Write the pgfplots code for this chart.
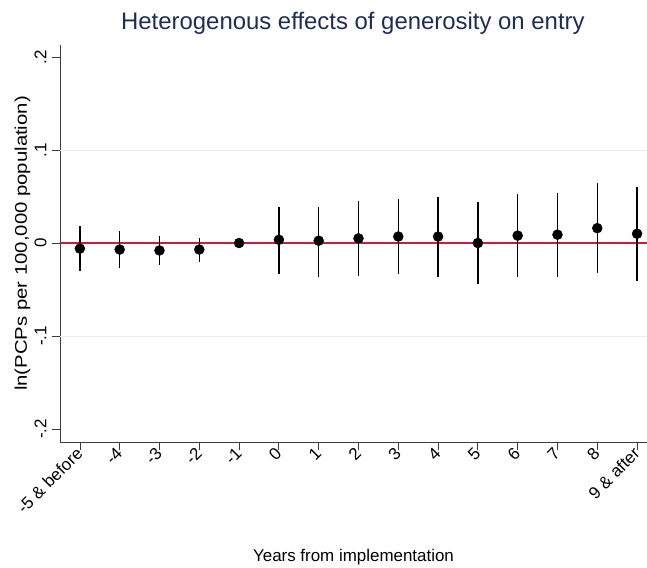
\documentclass[border=0pt]{standalone}
\usepackage{fontspec}
\setmainfont{Liberation Sans}
\usepackage{pgfplots}
\pgfplotsset{compat=1.18}
\usepackage{pgfplotstable}
\definecolor{titlenavy}{RGB}{30,45,88}
\definecolor{zerored}{RGB}{200,30,62}
\definecolor{gridc}{RGB}{230,238,243}
\definecolor{axisgray}{RGB}{60,60,60}

\pgfplotstableread{
x y lo hi
-5 -0.006 -0.030 0.018
-4 -0.007 -0.027 0.013
-3 -0.008 -0.024 0.008
-2 -0.007 -0.020 0.005
-1 0.000 0.000 0.000
0 0.0035 -0.033 0.039
1 0.0025 -0.036 0.039
2 0.005 -0.035 0.045
3 0.007 -0.033 0.047
4 0.007 -0.036 0.050
5 0.000 -0.044 0.044
6 0.008 -0.037 0.053
7 0.009 -0.036 0.054
8 0.016 -0.032 0.065
9 0.010 -0.041 0.060
}\coefs

\begin{document}
\begin{tikzpicture}
\path[use as bounding box] (0,0) rectangle (647bp,568bp);
\begin{axis}[
  at={(60bp,126bp)}, anchor=south west,
  scale only axis, width=587bp, height=397bp,
  xmin=-5.5, xmax=9.25, ymin=-0.214, ymax=0.213,
  axis x line*=bottom, axis y line*=left,
  axis line style={axisgray, line width=1pt, -},
  tick align=outside, major tick length=8bp,
  tick style={axisgray, line width=0.8pt},
  xtick={-5,-4,-3,-2,-1,0,1,2,3,4,5,6,7,8,9},
  xticklabels={{-5 \& before},{-4},{-3},{-2},{-1},{0},{1},{2},{3},{4},{5},{6},{7},{8},{9 \& after}},
  xticklabel style={yshift=2bp, xshift=2bp, rotate=45, anchor=east, font=\fontsize{17}{17}\selectfont},
  ytick={-0.2,-0.1,0,0.1,0.2},
  yticklabels={{-.2},{-.1},{0},{.1},{.2}},
  yticklabel style={xshift=-2bp, rotate=90, anchor=south, font=\fontsize{17}{17}\selectfont},
  title={Heterogenous effects of generosity on entry},
  title style={at={(axis description cs:0.499,1.040)}, anchor=center, font=\fontsize{24}{24}\selectfont, text=titlenavy},
  xlabel={Years from implementation},
  xlabel style={at={(axis description cs:0.5,-0.29)}, anchor=center, font=\fontsize{17}{17}\selectfont},
  ylabel={\scalebox{1.2}[1]{ln(PCPs per 100,000 population)}},
  ylabel style={at={(axis description cs:-0.064,0.5)}, anchor=center, font=\fontsize{17}{17}\selectfont},
  clip=false,
]
\addplot[gridc, line width=1pt, forget plot] coordinates {(-5.5,0.1) (9.25,0.1)};
\addplot[gridc, line width=1pt, forget plot] coordinates {(-5.5,-0.1) (9.25,-0.1)};
\addplot[zerored, line width=1.5pt, forget plot] coordinates {(-5.5,0) (9.25,0)};
\addplot[only marks, mark=*, mark size=5bp, mark options={black, fill=black},
  error bars/.cd, y dir=both, y explicit,
  error bar style={black, line width=1.3pt}, error mark=none]
  table[x=x, y=y, y error plus expr=\thisrow{hi}-\thisrow{y}, y error minus expr=\thisrow{y}-\thisrow{lo}] {\coefs};
\end{axis}
\end{tikzpicture}
\end{document}
